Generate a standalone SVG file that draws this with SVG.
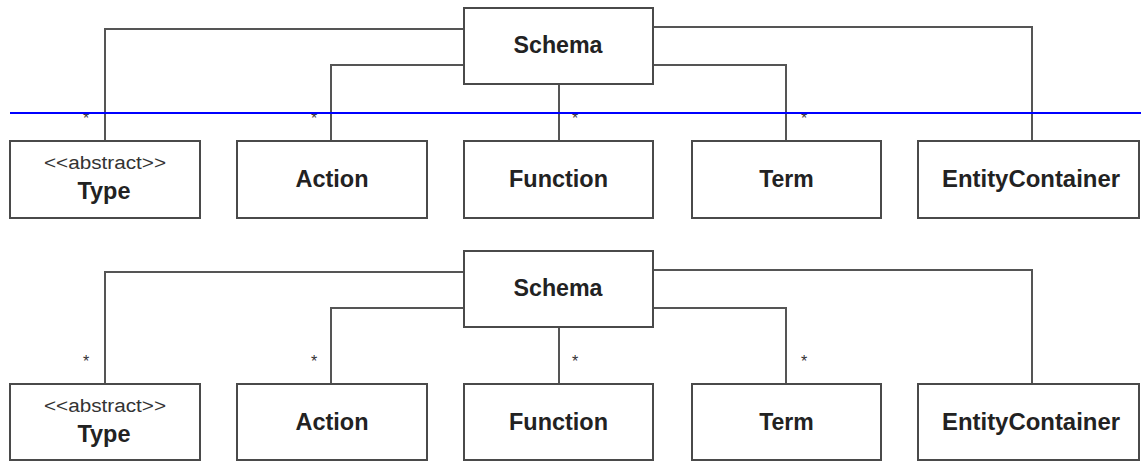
<svg xmlns="http://www.w3.org/2000/svg" width="1141" height="461" viewBox="0 0 1141 461">
<style>
.box{fill:#ffffff;stroke:#4a4a4a;stroke-width:2}
.conn{fill:none;stroke:#555555;stroke-width:2}
.name{font-family:"Liberation Sans",Arial,sans-serif;font-weight:bold;font-size:23px;fill:#222222;text-anchor:middle}
.stereo{font-family:"Liberation Sans",Arial,sans-serif;font-size:18px;fill:#333333;text-anchor:middle}
.mult{font-family:"Liberation Sans",Arial,sans-serif;font-size:16px;fill:#333333;text-anchor:middle}
.guide{stroke:#0000ff;stroke-width:2}
</style>
<rect width="1141" height="461" fill="#ffffff"/>
<g id="connectors-top">
<path class="conn" d="M464 29 H105 V141"/>
<path class="conn" d="M464 65 H331 V141"/>
<path class="conn" d="M559 84 V141"/>
<path class="conn" d="M653 65 H786 V141"/>
<path class="conn" d="M653 27 H1032 V141"/>
<text class="mult" x="86" y="124">*</text>
<text class="mult" x="314" y="124">*</text>
<text class="mult" x="575" y="124">*</text>
<text class="mult" x="804" y="124">*</text>
</g>
<g id="connectors-bottom">
<path class="conn" d="M464 272 H105 V384"/>
<path class="conn" d="M464 308 H331 V384"/>
<path class="conn" d="M559 327 V384"/>
<path class="conn" d="M653 308 H786 V384"/>
<path class="conn" d="M653 270 H1032 V384"/>
<text class="mult" x="86" y="367">*</text>
<text class="mult" x="314" y="367">*</text>
<text class="mult" x="575" y="367">*</text>
<text class="mult" x="804" y="367">*</text>
</g>
<g id="schema-top"><rect class="box" x="464" y="8" width="189" height="76"/><text class="name" x="558" y="53" textLength="89" lengthAdjust="spacingAndGlyphs">Schema</text></g>
<g id="type-top"><rect class="box" x="10" y="141" width="190" height="77"/><text class="stereo" x="105" y="169" textLength="122" lengthAdjust="spacingAndGlyphs">&lt;&lt;abstract&gt;&gt;</text><text class="name" x="104" y="199" textLength="53" lengthAdjust="spacingAndGlyphs">Type</text></g>
<g id="action-top"><rect class="box" x="237" y="141" width="190" height="77"/><text class="name" x="332" y="187" textLength="73" lengthAdjust="spacingAndGlyphs">Action</text></g>
<g id="function-top"><rect class="box" x="464" y="141" width="189" height="77"/><text class="name" x="558.5" y="187" textLength="99" lengthAdjust="spacingAndGlyphs">Function</text></g>
<g id="term-top"><rect class="box" x="692" y="141" width="189" height="77"/><text class="name" x="786.5" y="187">Term</text></g>
<g id="entitycontainer-top"><rect class="box" x="918" y="141" width="221" height="77"/><text class="name" x="1031" y="187" textLength="178" lengthAdjust="spacingAndGlyphs">EntityContainer</text></g>
<line class="guide" x1="10" y1="113" x2="1141" y2="113"/>
<g id="schema-bottom"><rect class="box" x="464" y="251" width="189" height="76"/><text class="name" x="558" y="296" textLength="89" lengthAdjust="spacingAndGlyphs">Schema</text></g>
<g id="type-bottom"><rect class="box" x="10" y="384" width="190" height="76"/><text class="stereo" x="105" y="412" textLength="122" lengthAdjust="spacingAndGlyphs">&lt;&lt;abstract&gt;&gt;</text><text class="name" x="104" y="442" textLength="53" lengthAdjust="spacingAndGlyphs">Type</text></g>
<g id="action-bottom"><rect class="box" x="237" y="384" width="190" height="76"/><text class="name" x="332" y="430" textLength="73" lengthAdjust="spacingAndGlyphs">Action</text></g>
<g id="function-bottom"><rect class="box" x="464" y="384" width="189" height="76"/><text class="name" x="558.5" y="430" textLength="99" lengthAdjust="spacingAndGlyphs">Function</text></g>
<g id="term-bottom"><rect class="box" x="692" y="384" width="189" height="76"/><text class="name" x="786.5" y="430">Term</text></g>
<g id="entitycontainer-bottom"><rect class="box" x="918" y="384" width="221" height="76"/><text class="name" x="1031" y="430" textLength="178" lengthAdjust="spacingAndGlyphs">EntityContainer</text></g>
</svg>
